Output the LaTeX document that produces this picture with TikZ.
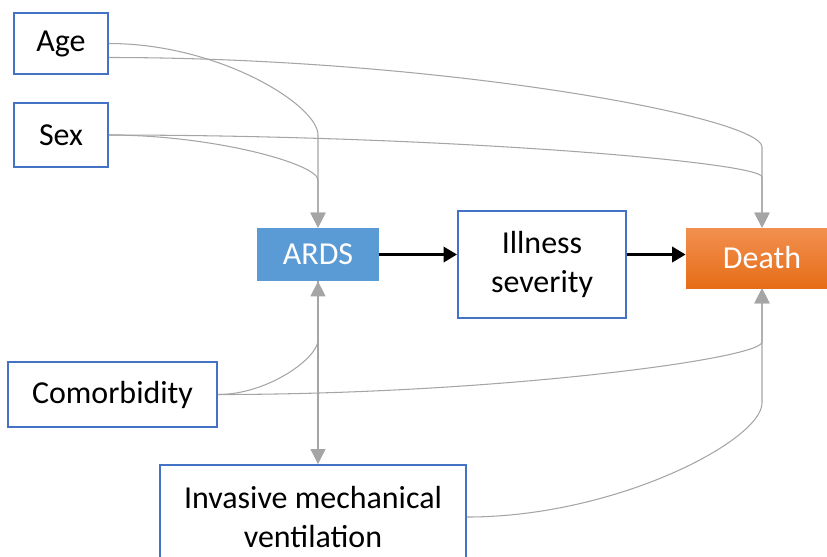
\documentclass[tikz,border=0pt]{standalone}
\usepackage{fontspec}
\setmainfont{Carlito}
\usetikzlibrary{arrows.meta,positioning}
\definecolor{boxblue}{HTML}{4472C4}
\definecolor{ardsblue}{HTML}{5B9BD5}
\definecolor{deathtop}{HTML}{F2904F}
\definecolor{deathbot}{HTML}{E66D18}
\definecolor{linkgray}{HTML}{A5A5A5}

\begin{document}
\begin{tikzpicture}[
    x=0.02cm, y=-0.02cm,
    every node/.style={font=\fontsize{18.2}{22.5}\selectfont, align=center, inner sep=2pt},
    box/.style={draw=boxblue, line width=1.1pt, fill=white},
    cause/.style={draw=linkgray, line width=0.6pt, -{Triangle[length=0.3cm, width=0.3cm]}},
    mainarrow/.style={draw=black, line width=2pt, -{Triangle[length=0.27cm, width=0.3cm]}}
  ]
  \useasboundingbox (0,0) rectangle (827,556);

  \node[box, minimum width=1.88cm, minimum height=1.22cm] (age) at (61,43.5) {Age};
  \node[box, minimum width=1.88cm, minimum height=1.28cm] (sex) at (61,135) {Sex};
  \node[fill=ardsblue, text=white, minimum width=2.44cm, minimum height=1.06cm] (ards) at (318,254.5) {ARDS};
  \node[box, minimum width=3.36cm, minimum height=2.14cm] (illness) at (542,264.5) {Illness\\severity};
  \node[top color=deathtop, bottom color=deathbot, text=white, minimum width=3.04cm, minimum height=1.2cm] (death) at (762,258) {Death};
  \node[box, minimum width=4.18cm, minimum height=1.3cm] (comorb) at (112.5,394.5) {Comorbidity};
  \node[box, minimum width=6.12cm, minimum height=2.08cm] (imv) at (313,517) {Invasive mechanical\\ventilation};

  % where the curved links turn straight
  \coordinate (ageBend) at (ards.north |- 0,135);
  \coordinate (sexBend) at (ards.north |- 0,180);
  \coordinate (comBend) at (ards.south |- 0,340);
  \coordinate (ageDeath) at (death.north |- 0,147);
  \coordinate (sexDeath) at (death.north |- 0,177);
  \coordinate (comDeath) at (death.south |- 0,342);
  \coordinate (imvDeath) at (death.south |- 0,403);

  % confounders into ARDS
  \draw[cause] (age.east) .. controls +(110,0) and +(0,-30) .. (ageBend) -- (ards.north);
  \draw[cause] (sex.east) .. controls +(105,0) and +(0,-16) .. (sexBend) -- (ards.north);
  \draw[cause] (comorb.east) .. controls +(50,0) and +(0,18) .. (comBend) -- (ards.south);
  \draw[cause] (ards.south) -- (ards.south |- imv.north);

  % confounders into death
  \draw[cause] ([yshift=-0.28cm]age.east) .. controls +(330,0) and +(0,-30) .. (ageDeath) -- (death.north);
  \draw[cause] (sex.east) .. controls +(330,0) and +(0,-15) .. (sexDeath) -- (death.north);
  \draw[cause] (comorb.east) .. controls +(275,0) and +(0,17) .. (comDeath) -- (death.south);
  \draw[cause] (imv.east) .. controls +(150,0) and +(0,37) .. (imvDeath) -- (death.south);

  \draw[mainarrow] (ards.east) -- (ards.east -| illness.west);
  \draw[mainarrow] (illness.east |- ards.east) -- (death.west |- ards.east);
\end{tikzpicture}
\end{document}
